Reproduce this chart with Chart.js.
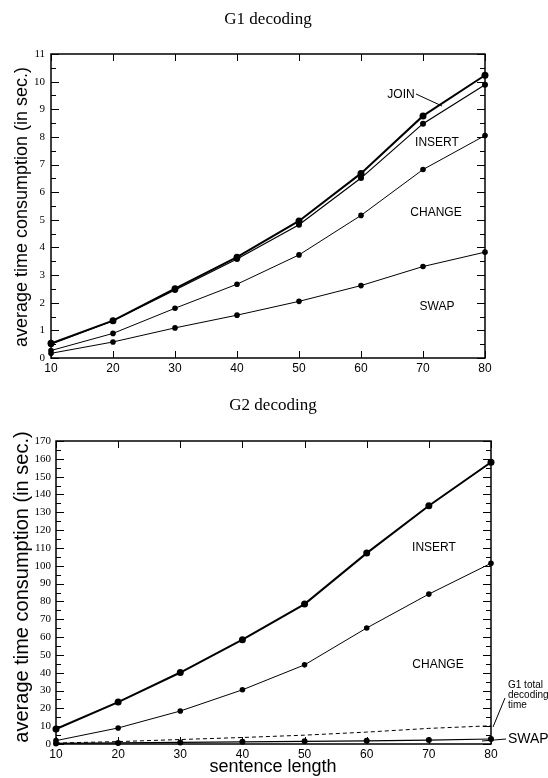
<!DOCTYPE html>
<html>
<head>
<meta charset="utf-8">
<script src="https://cdn.jsdelivr.net/npm/chart.js@4.4.0/dist/chart.umd.min.js"></script>
<style>
  body { margin: 0; background: #fff; }
  .wrap { position: absolute; left: 0; width: 548px; }
  #g1wrap { top: 0; height: 380px; }
  #g2wrap { top: 380px; height: 398px; }
</style>
</head>
<body>
<div class="wrap" id="g1wrap"><canvas id="g1" width="548" height="380"></canvas></div>
<div class="wrap" id="g2wrap"><canvas id="g2" width="548" height="398"></canvas></div>
<script>
// sentence lengths (x axis)
const lengths = [10, 20, 30, 40, 50, 60, 70, 80];

// G1 decoding, seconds
const g1Join   = [0.53, 1.35, 2.51, 3.65, 4.96, 6.68, 8.76, 10.23];
const g1Insert = [0.50, 1.35, 2.46, 3.58, 4.82, 6.51, 8.48, 9.89];
const g1Change = [0.27, 0.89, 1.80, 2.67, 3.73, 5.16, 6.82, 8.05];
const g1Swap   = [0.17, 0.58, 1.09, 1.55, 2.05, 2.62, 3.31, 3.83];

// G2 decoding, seconds
const g2Insert = [8.4, 23.5, 40.1, 58.5, 78.5, 107.1, 133.7, 158.1];
const g2Change = [1.9, 9.0, 18.5, 30.4, 44.4, 65.1, 84.1, 101.4];
const g2Swap   = [0.3, 0.6, 0.9, 1.2, 1.5, 1.8, 2.2, 2.8];
const g1Total  = [0.53, 1.35, 2.51, 3.65, 4.96, 6.68, 8.76, 10.23];

const SANS = '"Liberation Sans", Arial, sans-serif';
const SERIF = '"Liberation Serif", "Times New Roman", serif';

function line(data, width, radius, dash) {
    return {
        data: data,
        borderColor: '#000',
        backgroundColor: '#000',
        borderWidth: width,
        pointRadius: radius,
        pointBorderWidth: 0,
        pointBackgroundColor: '#000',
        borderDash: dash || [],
        tension: 0,
        clip: false
    };
}

// box + inward ticks on all sides
const frame = {
    id: 'frame',
    afterDatasetsDraw(chart, args, o) {
        const c = chart.ctx, a = chart.chartArea;
        const xs = chart.scales.x, ys = chart.scales.y;
        c.save();
        c.strokeStyle = '#000';
        c.lineWidth = 1.5;
        c.strokeRect(a.left, a.top, a.right - a.left, a.bottom - a.top);
        c.lineWidth = 1;
        c.beginPath();
        for (let v = ys.min; v <= ys.max + 1e-6; v += o.minor) {
            const y = Math.round(ys.getPixelForValue(v)) + 0.5;
            const major = Math.abs(v / o.major - Math.round(v / o.major)) < 1e-6;
            const len = major ? 8 : 5;
            c.moveTo(a.left, y); c.lineTo(a.left + len, y);
            c.moveTo(a.right, y); c.lineTo(a.right - len, y);
        }
        lengths.forEach((l, i) => {
            const x = Math.round(xs.getPixelForValue(i)) + 0.5;
            c.moveTo(x, a.top); c.lineTo(x, a.top + 7);
            c.moveTo(x, a.bottom); c.lineTo(x, a.bottom - 7);
        });
        c.stroke();
        c.restore();
    }
};

// titles and curve labels
const notes = {
    id: 'notes',
    afterDraw(chart, args, o) {
        const c = chart.ctx;
        c.save();
        c.fillStyle = '#000';
        c.strokeStyle = '#000';
        c.textBaseline = 'middle';
        (o.texts || []).forEach(t => {
            c.font = t.font;
            c.textAlign = t.align || 'center';
            c.save();
            c.translate(t.x, t.y);
            if (t.rot) c.rotate(t.rot);
            c.fillText(t.s, 0, 0);
            c.restore();
        });
        c.lineWidth = 1;
        (o.lines || []).forEach(l => {
            c.beginPath(); c.moveTo(l[0], l[1]); c.lineTo(l[2], l[3]); c.stroke();
        });
        c.restore();
    }
};

function scales(max, step, yWidth, yPad, xHeight) {
    return {
        x: {
            type: 'category',
            offset: false,
            grid: { display: false, drawTicks: false },
            border: { display: false },
            ticks: { font: { family: SANS, size: 12 }, color: '#000', padding: 3, maxRotation: 0, autoSkip: false },
            afterFit(s) { s.height = xHeight; }
        },
        y: {
            min: 0, max: max,
            grid: { display: false, drawTicks: false },
            border: { display: false },
            ticks: { stepSize: step, font: { family: SERIF, size: 11 }, color: '#000', padding: yPad },
            afterFit(s) { s.width = yWidth; }
        }
    };
}

new Chart(document.getElementById('g1'), {
    type: 'line',
    data: {
        labels: lengths,
        datasets: [
            line(g1Join, 2, 3.5),
            line(g1Insert, 1.2, 3),
            line(g1Change, 1, 2.8),
            line(g1Swap, 1, 2.8)
        ]
    },
    options: {
        responsive: false,
        animation: false,
        layout: { padding: { top: 54, right: 63, left: 0, bottom: 0 } },
        plugins: {
            legend: { display: false },
            tooltip: { enabled: false },
            frame: { major: 1, minor: 0.5 },
            notes: {
                texts: [
                    { s: 'G1 decoding', x: 268, y: 20, font: '17px ' + SERIF },
                    { s: 'average time consumption (in sec.)', x: 22, y: 207, rot: -Math.PI / 2, font: '18px ' + SANS },
                    { s: 'JOIN', x: 401, y: 95, font: '12px ' + SANS },
                    { s: 'INSERT', x: 437, y: 143, font: '12px ' + SANS },
                    { s: 'CHANGE', x: 436, y: 213, font: '12px ' + SANS },
                    { s: 'SWAP', x: 437, y: 307, font: '12px ' + SANS }
                ],
                lines: [[416, 94, 442, 106]]
            }
        },
        scales: scales(11, 1, 51, 6, 22)
    },
    plugins: [frame, notes]
});

new Chart(document.getElementById('g2'), {
    type: 'line',
    data: {
        labels: lengths,
        datasets: [
            line(g2Insert, 2, 3.5),
            line(g2Change, 1, 2.8),
            line(g1Total, 1, 0, [4, 3]),
            line(g2Swap, 1.2, 3)
        ]
    },
    options: {
        responsive: false,
        animation: false,
        layout: { padding: { top: 61, right: 57, left: 0, bottom: 0 } },
        plugins: {
            legend: { display: false },
            tooltip: { enabled: false },
            frame: { major: 10, minor: 5 },
            notes: {
                texts: [
                    { s: 'G2 decoding', x: 273, y: 26, font: '17px ' + SERIF },
                    { s: 'average time consumption (in sec.)', x: 22, y: 207, rot: -Math.PI / 2, font: '20px ' + SANS },
                    { s: 'sentence length', x: 273, y: 387, font: '18px ' + SANS },
                    { s: 'INSERT', x: 434, y: 168, font: '12px ' + SANS },
                    { s: 'CHANGE', x: 438, y: 285, font: '12px ' + SANS },
                    { s: 'G1 total', x: 508, y: 305, align: 'left', font: '10px ' + SANS },
                    { s: 'decoding', x: 508, y: 315, align: 'left', font: '10px ' + SANS },
                    { s: 'time', x: 508, y: 325, align: 'left', font: '10px ' + SANS },
                    { s: 'SWAP', x: 508, y: 359, align: 'left', font: '14px ' + SANS }
                ],
                lines: [[493, 347, 505, 318], [482, 361, 506, 359]]
            }
        },
        scales: scales(170, 10, 56, 5, 34)
    },
    plugins: [frame, notes]
});
</script>
</body>
</html>
